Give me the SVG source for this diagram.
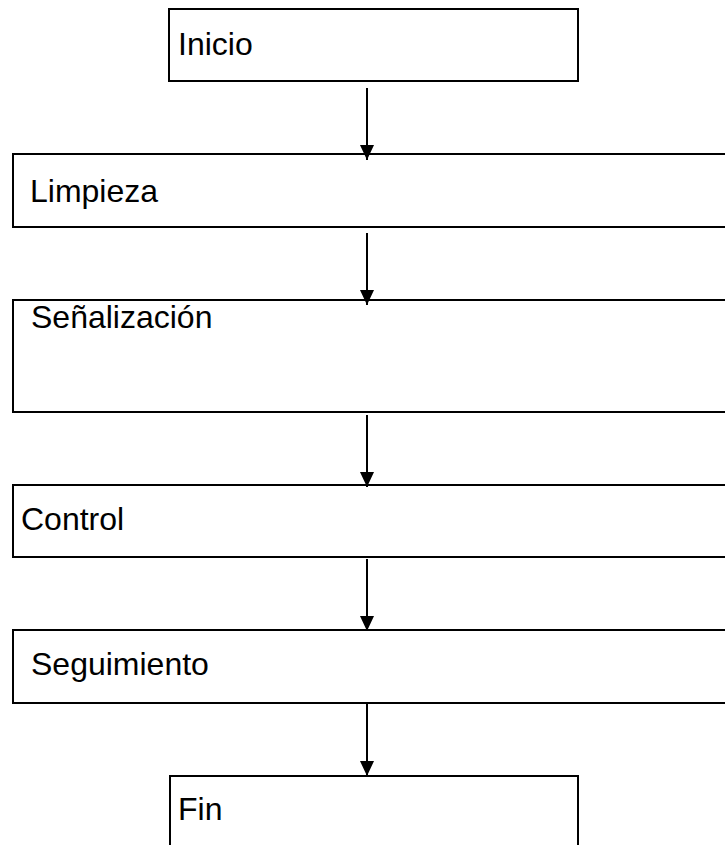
<svg xmlns="http://www.w3.org/2000/svg" width="725" height="845" viewBox="0 0 725 845">
<style>
.box{fill:#fff;stroke:#000;stroke-width:2}
.lbl{font-family:"Liberation Sans",Arial,sans-serif;font-size:32px;fill:#000}
.conn{stroke:#000;stroke-width:2;fill:none}
</style>
<defs>
<marker id="ah" viewBox="0 0 15 14" refX="15" refY="7" markerWidth="15" markerHeight="14" markerUnits="userSpaceOnUse" orient="auto">
<path d="M0,0 L15,7 L0,14 z" fill="#000"/>
</marker>
</defs>
<rect width="725" height="845" fill="#fff"/>
<g id="inicio"><rect class="box" x="169" y="9" width="409" height="72"/><text class="lbl" x="178" y="55">Inicio</text></g>
<g id="limpieza"><rect class="box" x="13" y="154" width="730" height="73"/><text class="lbl" x="30" y="202">Limpieza</text></g>
<g id="senalizacion"><rect class="box" x="13" y="300" width="730" height="112"/><text class="lbl" x="31" y="328">Señalización</text></g>
<g id="control"><rect class="box" x="13" y="485" width="730" height="72"/><text class="lbl" x="21" y="530">Control</text></g>
<g id="seguimiento"><rect class="box" x="13" y="630" width="730" height="73"/><text class="lbl" x="31" y="675">Seguimiento</text></g>
<g id="fin"><rect class="box" x="170" y="776" width="408" height="90"/><text class="lbl" x="178" y="820">Fin</text></g>
<g id="connectors">
<line class="conn" x1="367" y1="88" x2="367" y2="160" marker-end="url(#ah)"/>
<line class="conn" x1="367" y1="233" x2="367" y2="305" marker-end="url(#ah)"/>
<line class="conn" x1="367" y1="415" x2="367" y2="487" marker-end="url(#ah)"/>
<line class="conn" x1="367" y1="559" x2="367" y2="631" marker-end="url(#ah)"/>
<line class="conn" x1="367" y1="703" x2="367" y2="776" marker-end="url(#ah)"/>
</g>
</svg>
